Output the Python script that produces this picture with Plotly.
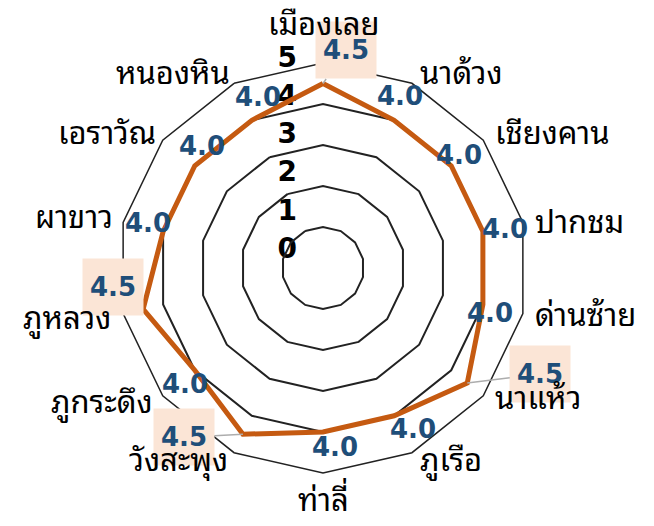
import math
import plotly.graph_objects as go

# ---- data ----
districts = ["เมืองเลย", "นาด้วง", "เชียงคาน", "ปากชม", "ด่านซ้าย", "นาแห้ว", "ภูเรือ",
             "ท่าลี่", "วังสะพุง", "ภูกระดึง", "ภูหลวง", "ผาขาว", "เอราวัณ", "หนองหิน"]
scores = [4.5, 4.0, 4.0, 4.0, 4.0, 4.5, 4.0, 4.0, 4.5, 4.0, 4.5, 4.0, 4.0, 4.0]
radial_ticks = [0, 1, 2, 3, 4, 5]

# ---- styling / layout constants ----
W, H = 654, 526
OFF = 8                              # page body margin of the html page
CX, CY, R = 323 - OFF, 268 - OFF, 205  # polar centre and radius in figure pixels
ORANGE = "#C55A11"
BLUE = "#1F4E79"
PEACH = "#FBE5D6"
GRID = "#222222"
THAI_FONT = "Noto Sans Thai Looped, Noto Sans Thai, Noto Sans, sans-serif"
NUM_FONT = "DejaVu Sans, sans-serif"

# value-label pixel offsets (dx right, dy down) from each data point
label_offsets = [(23, -33), (6, -24), (8, -11), (22, -3), (7, 9), (73, -9), (19, 13),
                 (12, 15), (-59, 3), (-10, 14), (-30, -22), (-15, -9), (7, -20), (6, -23)]
# category-label placement (anchor side, dx, dy) from each outer vertex
name_offsets = [("center", 1, -42), ("left", 6, -13), ("left", 10, -10), ("left", 10, -3),
                ("left", 10, -2), ("left", 10, -1), ("left", 6, 4), ("center", 0, 24),
                ("right", -4, 4), ("right", -8, 3), ("right", -10, 1), ("right", -8, -8),
                ("right", -5, -10), ("right", -2, -13)]

dom_x = [(CX - R) / W, (CX + R) / W]
dom_y = [(H - CY - R) / H, (H - CY + R) / H]
RMAX = 5

fig = go.Figure()
fig.add_trace(go.Scatterpolar(
    r=scores + scores[:1], theta=districts + districts[:1],
    mode="lines", line=dict(color=ORANGE, width=5),
    showlegend=False, hoverinfo="skip"))

# invisible carrier for the radial tick-label axis
fig.add_trace(go.Scatter(x=[None], y=[None], xaxis="x", yaxis="y2",
                         showlegend=False, hoverinfo="skip"))

n = len(districts)
value_anns, name_anns = [], []
for i, (name, v) in enumerate(zip(districts, scores)):
    ang = math.radians(i * 360 / n)
    s, c = math.sin(ang), math.cos(ang)
    # category name outside the outer ring
    side, ndx, ndy = name_offsets[i]
    name_anns.append(dict(
        x=RMAX * s, y=RMAX * c, xref="x", yref="y", text=name, showarrow=False,
        xanchor=side, yanchor="middle", xshift=ndx, yshift=-ndy,
        font=dict(family=THAI_FONT, size=31, color="black")))
    # value label
    dx, dy = label_offsets[i]
    txt = f"<b>{v:.1f}</b>"
    if v >= 4.5:
        value_anns.append(dict(
            x=v * s, y=v * c, xref="x", yref="y", text=txt,
            showarrow=True, arrowhead=0, arrowwidth=1.5, arrowcolor="#ADADAD",
            ax=dx, ay=dy, standoff=0, bgcolor=PEACH, width=58, height=54,
            borderpad=1, font=dict(family=NUM_FONT, size=26, color=BLUE)))
    else:
        value_anns.append(dict(
            x=v * s, y=v * c, xref="x", yref="y", text=txt,
            showarrow=False, xshift=dx, yshift=-dy,
            font=dict(family=NUM_FONT, size=26, color=BLUE)))

fig.update_layout(
    width=W, height=H,
    margin=dict(l=0, r=0, t=0, b=0, pad=0, autoexpand=False),
    paper_bgcolor="white", plot_bgcolor="rgba(0,0,0,0)",
    showlegend=False,
    polar=dict(
        domain=dict(x=dom_x, y=dom_y),
        bgcolor="rgba(0,0,0,0)",
        gridshape="linear",
        radialaxis=dict(range=[0, RMAX], tickvals=[1, 2, 3, 4, 5], showticklabels=False,
                        ticks="", showline=False, gridcolor=GRID, gridwidth=1.5),
        angularaxis=dict(type="category", categoryorder="array", categoryarray=districts,
                         direction="clockwise", rotation=90, showgrid=False,
                         showline=True, linecolor=GRID, linewidth=1.5,
                         ticks="", showticklabels=False),
    ),
    xaxis=dict(domain=dom_x, range=[-RMAX, RMAX], visible=False, fixedrange=True),
    yaxis=dict(domain=dom_y, range=[-RMAX, RMAX], visible=False, fixedrange=True),
    yaxis2=dict(anchor="free", position=(297 - OFF) / W, side="left",
                domain=[(H - (248 - OFF)) / H, (H - (57 - OFF)) / H], range=[0, 5],
                tickvals=radial_ticks, ticktext=[f"<b>{t}</b>" for t in radial_ticks],
                showgrid=False, zeroline=False, showline=False, ticks="",
                tickfont=dict(family="DejaVu Sans, sans-serif", size=28, color="black"),
                fixedrange=True),
    annotations=value_anns + name_anns,
)

fig.write_html("out.html")
